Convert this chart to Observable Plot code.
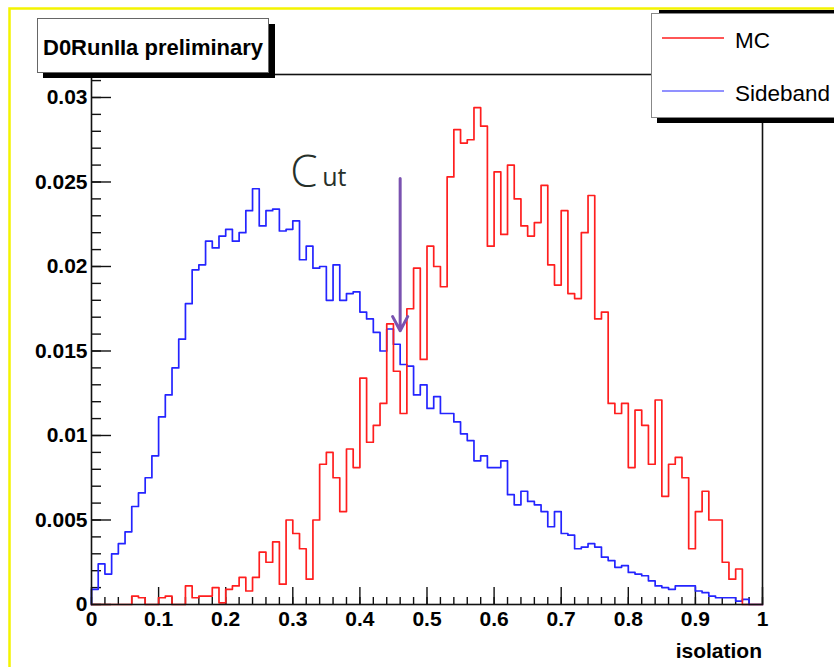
<!DOCTYPE html>
<html>
<head>
<meta charset="utf-8">
<script src="https://cdn.jsdelivr.net/npm/d3@7"></script>
<script src="https://cdn.jsdelivr.net/npm/@observablehq/plot@0.6"></script>
<style>
  html, body { margin: 0; padding: 0; background: #fff; }
  #chart { position: relative; width: 834px; height: 667px; overflow: hidden; }
</style>
</head>
<body>
<div id="chart"></div>
<script>
// Isolation distributions, normalised, 100 bins of width 0.01 on [0, 1]
const binWidth = 0.01;

// Sideband (background) sample
const sideband = [
  0.0009, 0.0024, 0.0018, 0.0030, 0.0036, 0.0043, 0.0058, 0.0066, 0.0075, 0.0088,
  0.0111, 0.0124, 0.0140, 0.0157, 0.0178, 0.0198, 0.0201, 0.0215, 0.0211, 0.0218,
  0.0222, 0.0215, 0.0220, 0.0233, 0.0246, 0.0224, 0.0233, 0.0234, 0.0221, 0.0222,
  0.0227, 0.0204, 0.0212, 0.0199, 0.0200, 0.0180, 0.0201, 0.0180, 0.0184, 0.0185,
  0.0173, 0.0169, 0.0161, 0.0150, 0.0163, 0.0154, 0.0142, 0.0141, 0.0124, 0.0130,
  0.0116, 0.0123, 0.0113, 0.0113, 0.0108, 0.0101, 0.0097, 0.0085, 0.0088, 0.0081,
  0.0081, 0.0085, 0.0065, 0.0059, 0.0067, 0.0061, 0.0059, 0.0055, 0.0046, 0.0055,
  0.0042, 0.0041, 0.0033, 0.0034, 0.0036, 0.0034, 0.0028, 0.0026, 0.0022, 0.0023,
  0.0019, 0.0018, 0.0017, 0.0014, 0.0011, 0.0010, 0.0009, 0.0011, 0.0011, 0.0011,
  0.0008, 0.0007, 0.0005, 0.0004, 0.0004, 0.0004, 0.0002, 0.0003, 0.0000, 0.0000
];

// Monte Carlo (signal) sample
const mc = [
  0.0000, 0.0000, 0.0000, 0.0000, 0.0000, 0.0000, 0.0005, 0.0004, 0.0000, 0.0000,
  0.0004, 0.0005, 0.0000, 0.0000, 0.0011, 0.0004, 0.0005, 0.0005, 0.0010, 0.0001,
  0.0009, 0.0011, 0.0016, 0.0008, 0.0016, 0.0031, 0.0025, 0.0037, 0.0012, 0.0050,
  0.0042, 0.0033, 0.0015, 0.0050, 0.0083, 0.0090, 0.0075, 0.0055, 0.0092, 0.0081,
  0.0134, 0.0096, 0.0106, 0.0119, 0.0166, 0.0138, 0.0113, 0.0175, 0.0199, 0.0145,
  0.0212, 0.0200, 0.0188, 0.0253, 0.0281, 0.0273, 0.0275, 0.0294, 0.0283, 0.0212,
  0.0256, 0.0219, 0.0260, 0.0240, 0.0224, 0.0218, 0.0226, 0.0248, 0.0201, 0.0189,
  0.0233, 0.0184, 0.0181, 0.0220, 0.0242, 0.0169, 0.0173, 0.0119, 0.0113, 0.0119,
  0.0081, 0.0115, 0.0106, 0.0083, 0.0121, 0.0064, 0.0083, 0.0087, 0.0075, 0.0033,
  0.0055, 0.0067, 0.0050, 0.0050, 0.0025, 0.0015, 0.0021, 0.0000, 0.0000, 0.0000
];

// Cut position and the extent of the arrow marking it
const cutValue = 0.46;
const cutArrowTop = 0.0252;
const cutArrowTip = 0.0162;

// Axis ticks
const xLabels = [0, 0.1, 0.2, 0.3, 0.4, 0.5, 0.6, 0.7, 0.8, 0.9, 1];
const yLabels = [0, 0.005, 0.01, 0.015, 0.02, 0.025, 0.03];
const yMax = 0.03136;

const seriesNames = ["MC", "Sideband"];
const seriesColors = ["#ff1e1e", "#2424ff"];

// Histogram outline: step from the axis up at the low edge, down at the high edge
function outline(values) {
  const pts = [{x: 0, y: 0}];
  values.forEach((v, i) => pts.push({x: i * binWidth, y: v}));
  pts.push({x: values.length * binWidth, y: values[values.length - 1]});
  pts.push({x: values.length * binWidth, y: 0});
  return pts;
}

const xMinor = d3.range(0, 1.0001, 0.02).map(v => +v.toFixed(2));
const yMinor = d3.range(0, 0.03101, 0.001).map(v => +v.toFixed(3));

const W = 834, H = 667;
const mL = 91, mR = 72, mT = 74, mB = 63;
const fw = W - mL - mR, fh = H - mT - mB;

const plot = Plot.plot({
  width: W, height: H,
  marginLeft: mL, marginRight: mR, marginTop: mT, marginBottom: mB,
  style: {
    fontFamily: "'Liberation Sans', Arial, sans-serif",
    fontSize: "21px",
    fontWeight: "bold",
    background: "#ffffff",
    color: "#000"
  },
  x: {domain: [0, 1]},
  y: {domain: [0, yMax]},
  marks: [
    // ticks drawn inward from the axes
    Plot.tickY(yMinor, {y: d => d, insetRight: fw - 10, stroke: "#111", strokeWidth: 1.4}),
    Plot.tickY(yLabels, {y: d => d, insetRight: fw - 20, stroke: "#111", strokeWidth: 1.4}),
    Plot.tickX(xMinor, {x: d => d, insetTop: fh - 7, stroke: "#111", strokeWidth: 1.4}),
    Plot.tickX(xLabels, {x: d => d, insetTop: fh - 17, stroke: "#111", strokeWidth: 1.4}),
    Plot.axisY(yLabels, {tickSize: 0, tickPadding: 4, label: null,
      tickFormat: d => String(+d.toFixed(3))}),
    Plot.axisX(xLabels, {tickSize: 0, tickPadding: 7, label: null,
      tickFormat: d => String(+d.toFixed(1))}),
    Plot.line(outline(sideband), {x: "x", y: "y", curve: "step-after",
      stroke: seriesColors[1], strokeWidth: 1.7}),
    Plot.line(outline(mc), {x: "x", y: "y", curve: "step-after",
      stroke: seriesColors[0], strokeWidth: 1.7}),
    Plot.arrow([{x: cutValue, top: cutArrowTop, tip: cutArrowTip}], {
      x: "x", y1: "top", y2: "tip",
      stroke: "#7a52b0", strokeWidth: 3, headAngle: 56, headLength: 8
    }),
    Plot.text([{x: cutValue, y: cutArrowTop}], {
      x: "x", y: "y", text: () => "C", dx: -110, dy: 8,
      textAnchor: "start", lineAnchor: "bottom",
      fontFamily: "'Open Sans', 'DejaVu Sans', sans-serif", fontWeight: 300,
      fontSize: 44, fill: "#26302a"
    }),
    Plot.text([{x: cutValue, y: cutArrowTop}], {
      x: "x", y: "y", text: () => "ut", dx: -78, dy: 7,
      textAnchor: "start", lineAnchor: "bottom",
      fontFamily: "'Open Sans', 'DejaVu Sans', sans-serif", fontWeight: 400,
      fontSize: 25, fill: "#26302a", style: "letter-spacing: 7px"
    }),
    Plot.frame({stroke: "#111", strokeWidth: 1.6})
  ]
});

document.getElementById("chart").appendChild(plot);

const svg = d3.select(plot);

// x-axis title
svg.append("text")
  .attr("x", W - mR).attr("y", 658)
  .attr("text-anchor", "end")
  .style("font-weight", "bold").style("font-size", "21px")
  .text("isolation");

// canvas border
svg.append("path")
  .attr("d", `M9.5,${H}V8.5H${W}`)
  .attr("fill", "none").attr("stroke", "#f4f400").attr("stroke-width", 2.5);

// title box with drop shadow
const tb = svg.append("g");
tb.append("rect").attr("x", 43).attr("y", 24).attr("width", 232).attr("height", 54).attr("fill", "#000");
tb.append("rect").attr("x", 37.5).attr("y", 18.5).attr("width", 231).attr("height", 54)
  .attr("fill", "#fff").attr("stroke", "#666").attr("stroke-width", 1);
tb.append("text").attr("x", 43).attr("y", 55)
  .attr("text-anchor", "start")
  .style("font-weight", "bold").style("font-size", "22px")
  .text("D0RunIIa preliminary");

// legend box with drop shadow
const lg = svg.append("g");
lg.append("rect").attr("x", 659).attr("y", 10).attr("width", 180).attr("height", 3).attr("fill", "#000");
lg.append("rect").attr("x", 657).attr("y", 19).attr("width", 190).attr("height", 104).attr("fill", "#000");
lg.append("rect").attr("x", 651.5).attr("y", 13.5).attr("width", 200).attr("height", 104)
  .attr("fill", "#fff").attr("stroke", "#888").attr("stroke-width", 1);
seriesNames.forEach((name, i) => {
  const cy = 38 + i * 53;
  lg.append("line").attr("x1", 662).attr("x2", 724).attr("y1", cy).attr("y2", cy)
    .attr("stroke", seriesColors[i]).attr("stroke-width", i === 0 ? 1.6 : 1.1);
  lg.append("text").attr("x", 735).attr("y", cy + 10)
    .attr("text-anchor", "start")
    .style("font-weight", "normal").style("font-size", "22.5px")
    .text(name);
});
</script>
</body>
</html>
